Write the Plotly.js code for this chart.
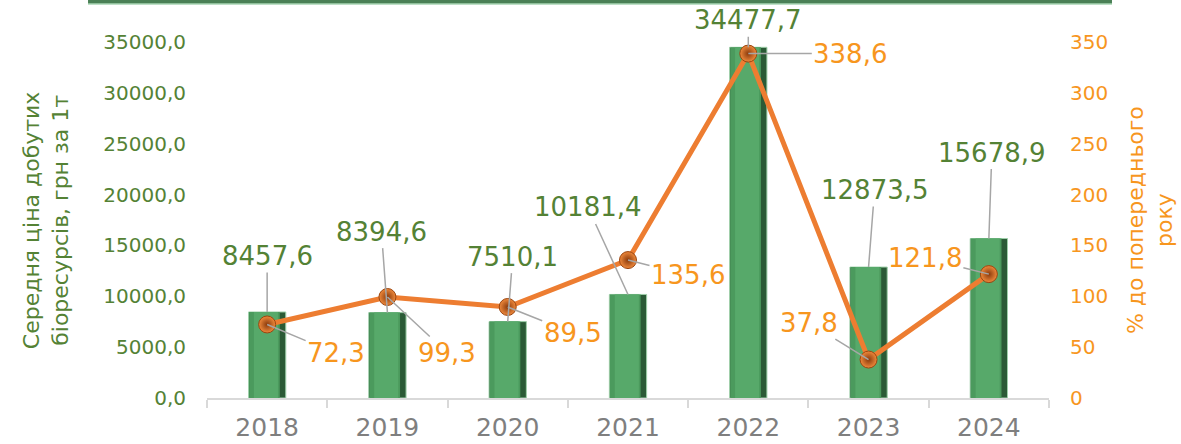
<!DOCTYPE html>
<html>
<head>
<meta charset="utf-8">
<script src="https://cdn.plot.ly/plotly-3.0.1.min.js"></script>
<style>
html,body{margin:0;padding:0;background:#fff;}
#chart{width:1181px;height:444px;}
</style>
</head>
<body>
<div id="chart"></div>
<script>
// ---- data ----
const years = ["2018","2019","2020","2021","2022","2023","2024"];
const avgPrice = [8457.6, 8394.6, 7510.1, 10181.4, 34477.7, 12873.5, 15678.9];
const pctPrev = [72.3, 99.3, 89.5, 135.6, 338.6, 37.8, 121.8];
const priceLabels = ["8457,6","8394,6","7510,1","10181,4","34477,7","12873,5","15678,9"];
const pctLabels = ["72,3","99,3","89,5","135,6","338,6","37,8","121,8"];

// label offsets (pixels) – styling only
const priceOffX = [0, -6, 5, -40, 0, 6, 3];
const priceOffY = [-56, -81, -65, -87, -27, -77, -86];
const pctOffX = [69, 60, 65, 60, 102, -60, -64];
const pctOffY = [29, 56, 26, 15, 0, -37, -16];

const GREEN = "#548235";
const ORANGE = "#f7961e";
const FONT = "DejaVu Sans, Verdana, sans-serif";

const traces = [
  {type:"bar", x:years, y:avgPrice, width:0.31, offset:-0.155,
   marker:{color:"#2b5a36", line:{color:"#9fd0aa", width:1}}, hoverinfo:"skip", showlegend:false},
  {type:"bar", x:years, y:avgPrice, width:0.255, offset:-0.15,
   marker:{color:"#4b9a5d", line:{width:0}}, hoverinfo:"skip", showlegend:false},
  {type:"bar", x:years, y:avgPrice, width:0.2, offset:-0.11,
   marker:{color:"#57a96a", line:{width:0}}, hoverinfo:"skip", showlegend:false},
  {type:"scatter", mode:"lines+markers", x:years, y:pctPrev, yaxis:"y2",
   line:{color:"#ed7d31", width:5},
   marker:{size:17, color:"#f08a3c", gradient:{type:"radial", color:"#8a3a0c"}, line:{color:"#9a4510", width:1}},
   hoverinfo:"skip", showlegend:false}
];

const annotations = [];
years.forEach((yr,i)=>{
  annotations.push({x:i, y:avgPrice[i], xref:"x", yref:"y", text:priceLabels[i],
    showarrow:true, arrowhead:0, arrowwidth:1.5, arrowcolor:"#a6a6a6",
    ax:priceOffX[i], ay:priceOffY[i], standoff:0,
    font:{family:FONT, size:26, color:GREEN}});
  annotations.push({x:i, y:pctPrev[i], xref:"x", yref:"y2", text:pctLabels[i],
    showarrow:true, arrowhead:0, arrowwidth:1.5, arrowcolor:"#a6a6a6",
    ax:pctOffX[i], ay:pctOffY[i], standoff:0,
    font:{family:FONT, size:26, color:ORANGE}});
});
annotations.push({xref:"paper", yref:"paper", x:-0.191, y:0.5, xanchor:"center", yanchor:"middle",
  textangle:-90, showarrow:false, text:"Середня ціна добутих<br>біоресурсів, грн за 1т",
  font:{family:FONT, size:22, color:GREEN}});
annotations.push({xref:"paper", yref:"paper", x:1.12, y:0.5, xanchor:"center", yanchor:"middle",
  textangle:-90, showarrow:false, text:"% до попереднього<br>року",
  font:{family:FONT, size:22, color:ORANGE}});

const layout = {
  width:1181, height:444,
  margin:{l:207, r:132, t:42, b:46, pad:0},
  paper_bgcolor:"#ffffff", plot_bgcolor:"#ffffff",
  barmode:"overlay",
  separators:", ",
  showlegend:false,
  font:{family:FONT},
  xaxis:{type:"category", range:[-0.5, 6.5], showgrid:false, zeroline:false,
    showline:true, linecolor:"#d9d9d9", linewidth:2,
    ticks:"outside", tickson:"boundaries", ticklen:8, tickcolor:"#d9d9d9", tickwidth:2,
    ticklabelstandoff:6,
    tickfont:{family:FONT, size:25, color:"#7f7f7f"}},
  yaxis:{range:[0,35000], tickvals:[0,5000,10000,15000,20000,25000,30000,35000],
    tickformat:".1f", showgrid:false, zeroline:false, showline:false,
    ticklabelstandoff:20,
    tickfont:{family:FONT, size:20, color:GREEN}},
  yaxis2:{overlaying:"y", side:"right", range:[0,350], tickvals:[0,50,100,150,200,250,300,350],
    showgrid:false, zeroline:false, showline:false, ticklabelstandoff:20,
    tickfont:{family:FONT, size:20, color:ORANGE}},
  shapes:[
    {type:"rect", xref:"paper", yref:"paper", x0:-0.1413, x1:1.0748, y0:1.1067, y1:1.125,
     fillcolor:"#4a8056", line:{width:0}, layer:"above"},
    {type:"line", xref:"paper", yref:"paper", x0:-0.1413, x1:1.0748, y0:1.1067, y1:1.1067,
     line:{color:"#a9d6b4", width:1.5}, layer:"above"}
  ],
  annotations:annotations
};

Plotly.newPlot("chart", traces, layout, {displayModeBar:false, staticPlot:true});
</script>
</body>
</html>
